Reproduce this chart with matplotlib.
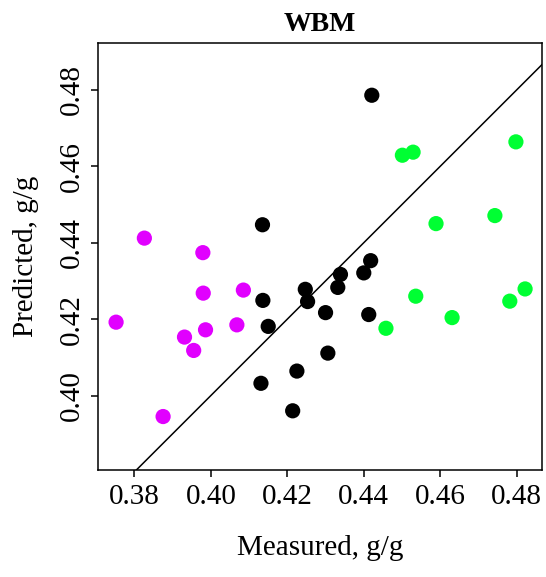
import matplotlib
matplotlib.use("Agg")
import matplotlib.pyplot as plt
import numpy as np

plt.rcParams['font.family'] = ['Liberation Serif', 'DejaVu Serif']

# measured vs predicted water content, three groups
meas_low = [0.3752, 0.3826, 0.3979, 0.3980, 0.4085, 0.3986, 0.4068, 0.3931, 0.3955, 0.3875]
pred_low = [0.4192, 0.4412, 0.4374, 0.4268, 0.4276, 0.4172, 0.4185, 0.4153, 0.4118, 0.3945]

meas_mid = [0.4135, 0.4136, 0.4150, 0.4131, 0.4214, 0.4225, 0.4247, 0.4253,
            0.4300, 0.4306, 0.4332, 0.4339, 0.4400, 0.4418, 0.4413, 0.4421]
pred_mid = [0.4447, 0.4249, 0.4181, 0.4032, 0.3960, 0.4064, 0.4278, 0.4246,
            0.4217, 0.4111, 0.4283, 0.4317, 0.4321, 0.4353, 0.4212, 0.4786]

meas_high = [0.4501, 0.4529, 0.4798, 0.4589, 0.4743, 0.4536, 0.4631, 0.4822, 0.4782, 0.4458]
pred_high = [0.4629, 0.4637, 0.4664, 0.4450, 0.4471, 0.4260, 0.4204, 0.4279, 0.4247, 0.4176]

xticks = [0.38, 0.40, 0.42, 0.44, 0.46, 0.48]
yticks = [0.40, 0.42, 0.44, 0.46, 0.48]

fig = plt.figure(figsize=(5.46, 5.77), dpi=100)
ax = fig.add_axes([0.1804, 0.1854, 0.8114, 0.7409])

ax.scatter(meas_low, pred_low, s=120, color='#e100ff', edgecolors='none', zorder=3)
ax.scatter(meas_mid, pred_mid, s=120, color='black', edgecolors='none', zorder=3)
ax.scatter(meas_high, pred_high, s=120, color='#00ff33', edgecolors='none', zorder=3)

# 1:1 line
xx = np.array([0.3, 0.6])
ax.plot(xx, xx, color='black', lw=1.1, zorder=2)

ax.set_xlim(0.3706, 0.4865)
ax.set_ylim(0.3805, 0.4924)
ax.set_xticks(xticks)
ax.set_xticklabels(['%.2f' % v for v in xticks])
ax.set_yticks(yticks)
ax.set_yticklabels(['%.2f' % v for v in yticks], rotation=90, va='center')

ax.tick_params(axis='both', labelsize=21, length=5, width=1.1, color='black', pad=5)
for sp in ax.spines.values():
    sp.set_linewidth(1.1)

ax.set_xlabel('Measured, g/g', fontsize=21, labelpad=18)
ax.set_ylabel('Predicted, g/g', fontsize=21, labelpad=14)
ax.set_title('WBM', fontsize=20, fontweight='bold', pad=8)

fig.savefig('out.png', dpi=100)
